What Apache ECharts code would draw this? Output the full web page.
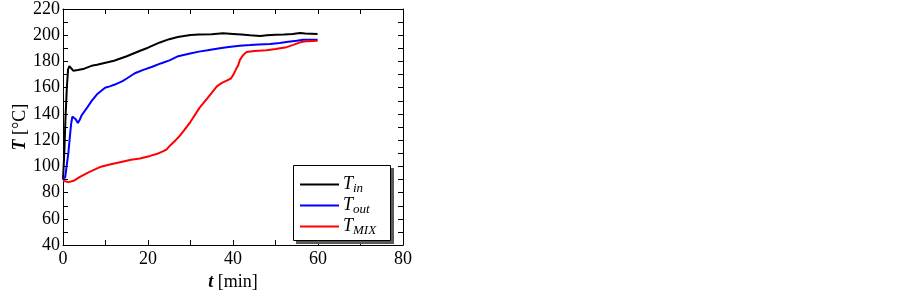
<!DOCTYPE html>
<html><head><meta charset="utf-8">
<script src="https://cdn.jsdelivr.net/npm/echarts@6/dist/echarts.min.js"></script>
<style>html,body{margin:0;padding:0;background:#fff}#c{width:903px;height:296px}</style>
</head><body><div id="c"></div>
<script>
// Data
const tIn = [0,0.3,0.6,0.9,1.2,1.5,1.9,2.4,3.5,5,7,8,10,12,15,18,20,22.8,25,27,30,32,35,37.7,40,42,44,46.4,48,50,52,54,55.8,57,59.9];
const TIn = [90,110,138,160,174,176.5,175,173,173.5,174.5,177,177.5,179,180.5,184,188,190.5,194.5,197,198.7,200.2,200.5,200.7,201.5,201,200.5,200,199.5,200,200.3,200.5,201,201.7,201.3,201];
const tOut = [0,0.5,0.9,1.25,1.6,1.9,2.2,2.6,3.0,3.5,4.0,4.4,5.5,6.75,8,9.9,11,12.2,14,15,16.9,18.9,21,23,25.2,27.1,29.9,32,34,36.9,39,41.6,44,46,48.7,51,53,55,56.5,58,59.9];
const TOut = [91,91.5,93,110,122,132,138,138.5,136,133,136,139,144,150,155,160,161,162.4,165,167,171,173.6,176,178.5,181,184,186,187.5,188.5,190,191,192,192.5,193,193.3,194,195,195.8,196.5,196.5,196.5];
const tMix = [0,1.25,2.5,4,6,8.7,11,13.4,16,18.1,20.5,22,23.5,24.4,25.2,26.5,27.4,28.3,30,32.2,34,36.2,37.3,38.5,39.5,40.1,40.7,41.25,41.6,42.3,43.2,45,47.9,50,52.6,54,55.8,57.5,59.9];
const TMix = [89,88,89,92,95.5,99.5,101.5,103.2,105,106,108,109.4,111.5,113,116,120,123,126.7,134,145,152,161,163.5,165.4,167,170,174,177.3,181,184.5,187.3,188,188.6,189.5,190.9,192.5,194.6,195.5,195.8];
const seriesNames = ['T_in','T_out','T_MIX'];
const seriesSubs = ['in','out','MIX'];
const xMin = 0, xMax = 80, yMin = 40, yMax = 220;

const F = '"Liberation Serif", "DejaVu Serif", serif';
const pairs = (a, b) => a.map((v, i) => [v, b[i]]);
const subOf = {}; seriesNames.forEach((n, i) => subOf[n] = seriesSubs[i]);

function axisBase(extra) {
  return Object.assign({
    type: 'value', interval: 10,
    axisLine: { show: true, onZero: false, lineStyle: { color: '#000', width: 1 } },
    axisTick: { show: true, inside: true, length: 5, lineStyle: { color: '#000', width: 1 } },
    splitLine: { show: false },
    axisLabel: { show: false }
  }, extra);
}
const lbl = { show: true, color: '#000', fontFamily: F, fontSize: 18,
  formatter: v => (v % 20 === 0 ? String(v) : '') };

const chart = echarts.init(document.getElementById('c'), null, { renderer: 'canvas' });
chart.setOption({
  animation: false,
  backgroundColor: '#fff',
  grid: { left: 63, right: 500, top: 9, bottom: 44, containLabel: false },
  graphic: [
    { type: 'rect', z: 50, shape: { x: 296, y: 168, width: 98, height: 76 }, style: { fill: '#5a5a5a' } },
    { type: 'rect', z: 51, shape: { x: 293.5, y: 165.5, width: 97, height: 75 }, style: { fill: '#fff', stroke: '#000', lineWidth: 1 } }
  ],
  xAxis: [
    axisBase({ position: 'bottom', min: xMin, max: xMax, axisLabel: Object.assign({}, lbl, { margin: 5 }),
      name: '{b|t} [min]', nameLocation: 'middle', nameGap: 21,
      nameTextStyle: { color: '#000', fontFamily: F, fontSize: 18,
        rich: { b: { fontFamily: F, fontSize: 18, fontWeight: 'bold', fontStyle: 'italic', color: '#000' } } } }),
    axisBase({ position: 'top', min: xMin, max: xMax })
  ],
  yAxis: [
    axisBase({ position: 'left', min: yMin, max: yMax, axisLabel: Object.assign({}, lbl, { margin: 3 }),
      name: '{b|T} [°C]', nameLocation: 'middle', nameGap: 34,
      nameTextStyle: { color: '#000', fontFamily: F, fontSize: 18,
        rich: { b: { fontFamily: F, fontSize: 18, fontWeight: 'bold', fontStyle: 'italic', color: '#000' } } } }),
    axisBase({ position: 'right', min: yMin, max: yMax })
  ],
  legend: {
    orient: 'vertical', left: 293, top: 165, z: 60,
    padding: [9, 14, 7, 7], itemGap: 0,
    itemWidth: 39, itemHeight: 2, icon: 'rect',
    data: seriesNames,
    formatter: n => '{t|T}{s|' + subOf[n] + '}',
    textStyle: {
      color: '#000', fontFamily: F, padding: [0, 0, 0, -1],
      rich: {
        t: { fontFamily: F, fontSize: 18, fontStyle: 'italic', color: '#000', lineHeight: 21 },
        s: { fontFamily: F, fontSize: 13, fontStyle: 'italic', color: '#000', lineHeight: 13, padding: [8, 0, 0, 0] }
      }
    }
  },
  series: [
    { name: seriesNames[0], type: 'line', data: pairs(tIn, TIn), showSymbol: false, symbol: 'none',
      lineStyle: { color: '#000', width: 2 }, itemStyle: { color: '#000' } },
    { name: seriesNames[1], type: 'line', data: pairs(tOut, TOut), showSymbol: false, symbol: 'none',
      lineStyle: { color: '#0000ff', width: 2 }, itemStyle: { color: '#0000ff' } },
    { name: seriesNames[2], type: 'line', data: pairs(tMix, TMix), showSymbol: false, symbol: 'none',
      lineStyle: { color: '#ff0000', width: 2 }, itemStyle: { color: '#ff0000' } }
  ]
});
</script></body></html>
